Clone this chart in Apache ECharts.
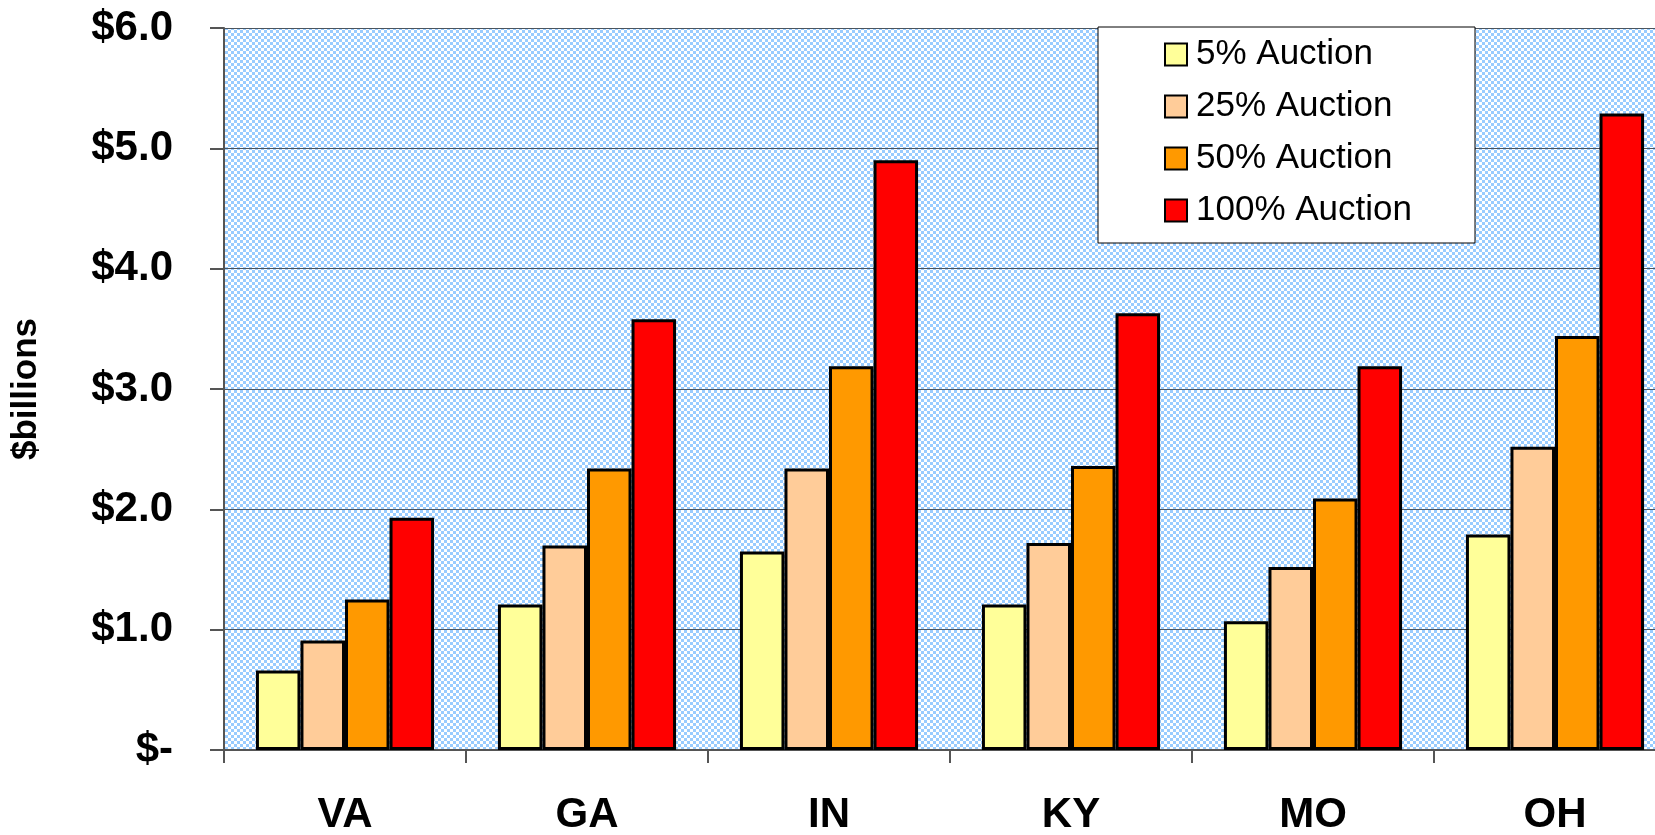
<!DOCTYPE html>
<html>
<head>
<meta charset="utf-8">
<title>Auction revenue by state</title>
<script src="https://cdn.jsdelivr.net/npm/echarts@6/dist/echarts.min.js"></script>
<style>
  html, body { margin: 0; padding: 0; background: #fff; }
  #chart { width: 1655px; height: 835px; }
</style>
</head>
<body>
<div id="chart"></div>
<script>
// 数据
var states = ['VA', 'GA', 'IN', 'KY', 'MO', 'OH']
var seriesNames = ['5% Auction', '25% Auction', '50% Auction', '100% Auction']
var auction5 = [0.66, 1.21, 1.65, 1.21, 1.07, 1.79]
var auction25 = [0.91, 1.70, 2.34, 1.72, 1.52, 2.52]
var auction50 = [1.25, 2.34, 3.19, 2.36, 2.09, 3.44]
var auction100 = [1.93, 3.58, 4.90, 3.63, 3.19, 5.29]
var yTickLabels = ['$-', '$1.0', '$2.0', '$3.0', '$4.0', '$5.0', '$6.0']

var barColors = ['#ffff99', '#ffcc99', '#ff9900', '#ff0000']
var seriesData = [auction5, auction25, auction50, auction100]

// 背景格子
var makePattern = function () {
  var c = document.createElement('canvas')
  c.width = 6
  c.height = 6
  var ctx = c.getContext('2d')
  ctx.fillStyle = '#ffffff'
  ctx.fillRect(0, 0, 6, 6)
  ctx.fillStyle = '#99ccff'
  ctx.fillRect(0, 0, 3, 3)
  ctx.fillRect(3, 3, 3, 3)
  return c
}

var myChart = echarts.init(document.getElementById('chart'))

var option = {
  animation: false,
  textStyle: { fontFamily: 'Liberation Sans, Arial, sans-serif' },
  grid: {
    left: 224,
    top: 28,
    right: -21,
    bottom: 85,
    outerBoundsMode: 'none',
    containLabel: false,
    show: true,
    borderWidth: 0,
    backgroundColor: { image: makePattern(), repeat: 'repeat' },
  },
  graphic: [
    {
      type: 'rect',
      z: 5,
      shape: { x: 1098, y: 27, width: 377, height: 216 },
      style: { fill: '#fff', stroke: '#000', lineWidth: 1 },
    },
  ],
  legend: {
    z: 10,
    orient: 'vertical',
    left: 1164,
    top: 37,
    padding: 0,
    icon: 'rect',
    itemWidth: 22,
    itemHeight: 22,
    itemGap: 17,
    data: seriesNames,
    itemStyle: { borderColor: '#000', borderWidth: 2 },
    textStyle: {
      color: '#000',
      fontSize: 35,
      lineHeight: 34,
      fontFamily: 'Liberation Sans, Arial, sans-serif',
      padding: [0, 0, 0, 4],
    },
  },
  xAxis: {
    type: 'category',
    data: states,
    axisLine: { lineStyle: { color: '#555', width: 2 } },
    axisTick: { show: true, length: 13, lineStyle: { color: '#555', width: 2 } },
    axisLabel: {
      color: '#000',
      fontSize: 42,
      fontWeight: 'bold',
      margin: 44,
    },
  },
  yAxis: {
    type: 'value',
    min: 0,
    max: 6,
    interval: 1,
    name: '$billions',
    nameLocation: 'middle',
    nameGap: 180,
    nameRotate: 90,
    nameTextStyle: { color: '#000', fontSize: 35, fontWeight: 'bold' },
    axisLine: { show: true, lineStyle: { color: '#555', width: 2 } },
    axisTick: { show: true, length: 14, lineStyle: { color: '#555', width: 2 } },
    axisLabel: {
      color: '#000',
      fontSize: 42,
      fontWeight: 'bold',
      margin: 51,
      formatter: function (v) {
        return yTickLabels[Math.round(v)]
      },
    },
    splitLine: { show: true, lineStyle: { color: '#4a5560', width: 1 } },
  },
  series: seriesNames.map(function (name, i) {
    return {
      name: name,
      type: 'bar',
      data: seriesData[i],
      barGap: '0%',
      barCategoryGap: '26.4%',
      itemStyle: {
        color: barColors[i],
        borderColor: '#000',
        borderWidth: 3,
      },
    }
  }),
}

myChart.setOption(option)
</script>
</body>
</html>
